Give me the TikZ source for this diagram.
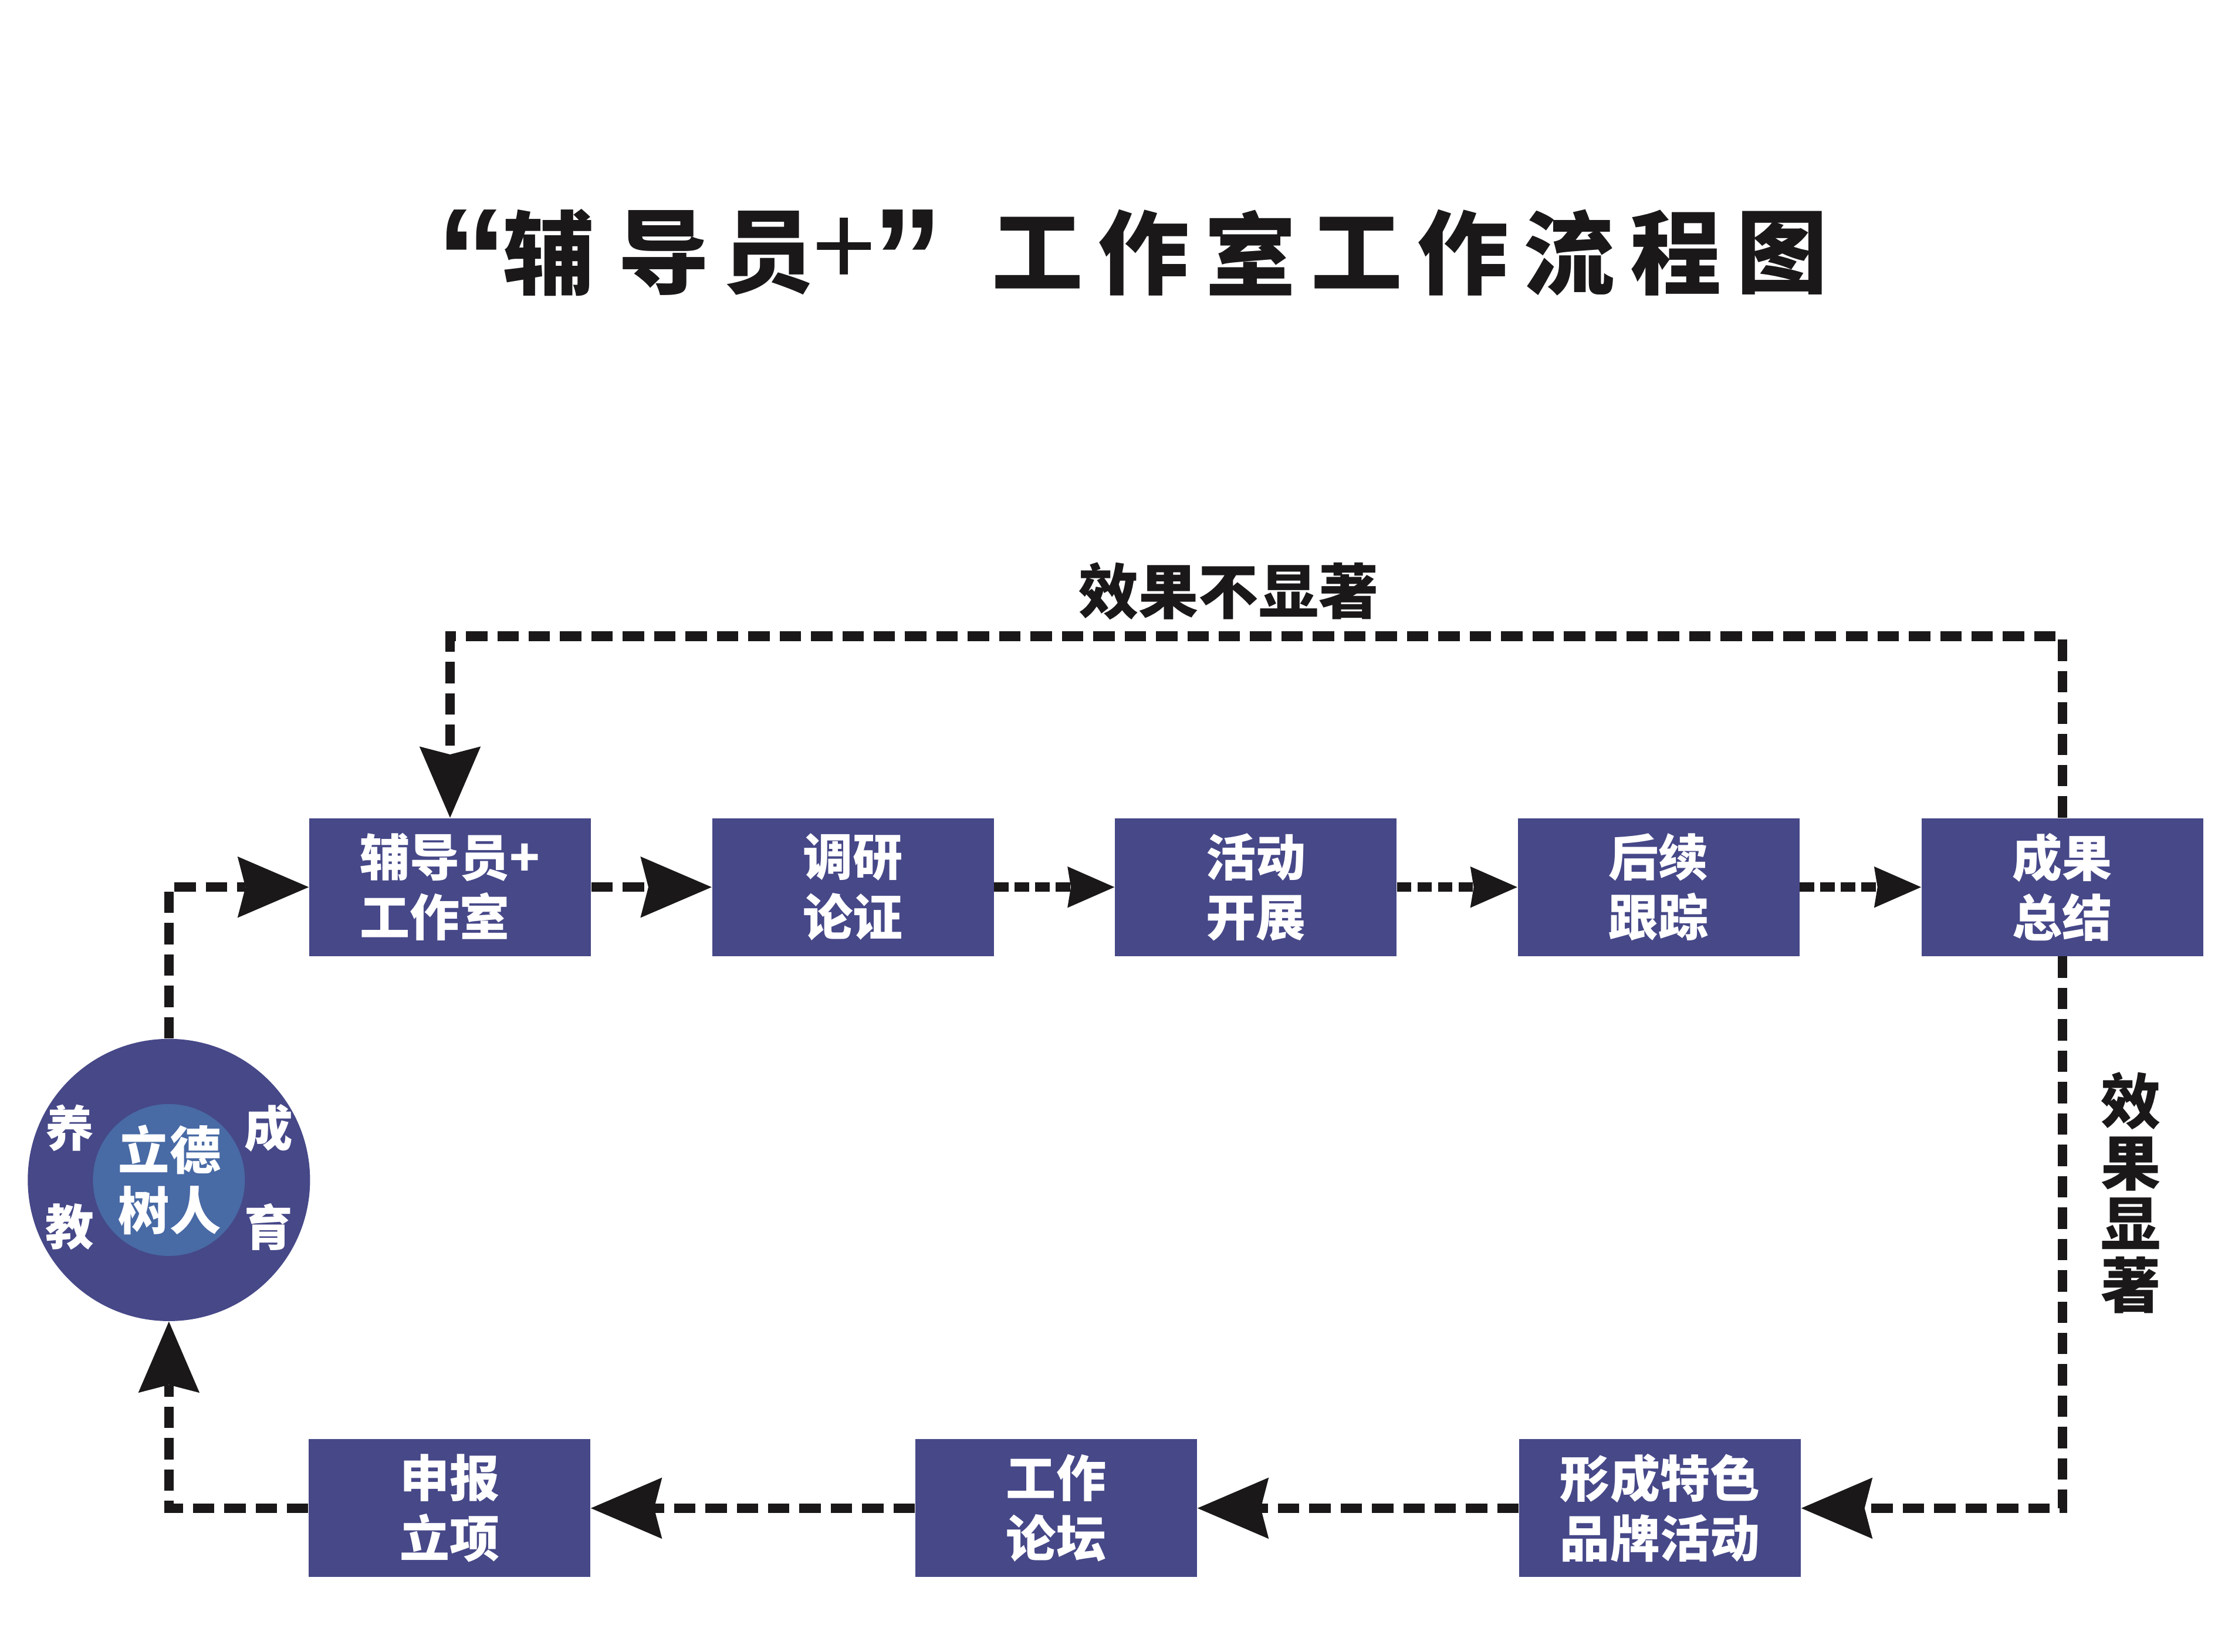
\documentclass[tikz,border=0pt]{standalone}
\usepackage{fontspec}
\newfontfamily\cjk{Noto Sans CJK SC}
\newfontfamily\cjkblack{Noto Sans CJK SC Black}
\newfontfamily\quotefont{Liberation Sans}
\usetikzlibrary{arrows.meta}
\definecolor{boxc}{RGB}{70,72,136}
\definecolor{innerc}{RGB}{72,106,165}
\definecolor{ink}{RGB}{26,24,25}
\begin{document}
\begin{tikzpicture}[x=0.025cm,y=-0.025cm,
  box/.style={rectangle, fill=boxc, minimum width=4.94cm, minimum height=2.42cm, inner sep=0pt, text=white, font=\cjk\bfseries\fontsize{24.9}{29.9}\selectfont, align=center},
  conn/.style={draw=ink, line width=0.17cm},
  longdash/.style={dash pattern=on 0.375cm off 0.175cm},
  finedash/.style={dash pattern=on 0.25cm off 0.11cm},
  bigtip/.style={-{Stealth[length=1.25cm,width=1.075cm,inset=0.14cm,line width=0pt]}},
  smalltip/.style={-{Stealth[length=0.825cm,width=0.725cm,inset=0.06cm,line width=0pt]}},
  titlech/.style={font=\cjkblack\fontsize{45.5}{50}\selectfont, text=ink, inner sep=0pt},
  titlequote/.style={font=\quotefont\bfseries\fontsize{71}{75}\selectfont, text=ink, inner sep=0pt, anchor=north},
  titleplus/.style={font=\cjk\fontsize{56}{60}\selectfont, text=ink, inner sep=0pt},
  lab/.style={font=\cjk\bfseries\fontsize{29.9}{30.6}\selectfont, text=ink, inner sep=0pt, align=center},
  ctext/.style={font=\cjk\bfseries\fontsize{24.2}{30.2}\selectfont, text=white, inner sep=0pt, align=center},
]
\useasboundingbox (0,0) rectangle (1568,1159);

% title
\node[titlequote] (q1) at (331,147) {“};
\node[titlech] (t1) at (385,177.4) {辅};
\node[titlech] (t2) at (465.6,177.4) {导};
\node[titlech] (t3) at (539,177.4) {员};
\node[titleplus] (t4) at (592,177.4) {+};
\node[titlequote] (q2) at (637,147) {”};
\foreach \ch [count=\i] in {工,作,室,工,作,流,程,图}
  \node[titlech] (w\i) at ({728+(\i-1)*74.6},177.4) {\ch};

% boxes
\node[box, align=left] (b1) at (315.75,622.5) {辅导员+\\工作室};
\node[box] (b2) at (598.4,622.5) {调研\\论证};
\node[box] (b3) at (881,622.5) {活动\\开展};
\node[box] (b4) at (1163.6,622.5) {后续\\跟踪};
\node[box] (b5) at (1446.9,622.5) {成果\\总结};
\node[box] (p1) at (1164.6,1058.3) {形成特色\\品牌活动};
\node[box] (p2) at (741,1058.3) {工作\\论坛};
\node[box] (p3) at (315.4,1058.3) {申报\\立项};

% circle
\node[circle, fill=boxc, minimum size=4.95cm, inner sep=0pt] (c) at (118.5,828) {};
\node[circle, fill=innerc, minimum size=2.665cm, inner sep=0pt] (ci) at (118.5,828) {};
\node[ctext, font=\cjk\bfseries\fontsize{25.6}{30.2}\selectfont] (ct) at (119,828) {立德\\树人};
\node[ctext] (y1) at (48.8,791.5) {养};
\node[ctext] (y2) at (48.8,861) {教};
\node[ctext] (y3) at (188.6,791.5) {成};
\node[ctext] (y4) at (188.6,861) {育};

% labels
\node[lab] (l1) at (862,415) {效果不显著};
\node[lab] (l2) at (1495,837) {效\\果\\显\\著};

% connectors
\coordinate (fbR) at (1446.9,446.5);
\draw[conn,longdash,bigtip] (b1) -- (b2);
\draw[conn,finedash,smalltip] (b2) -- (b3);
\draw[conn,finedash,smalltip] (b3) -- (b4);
\draw[conn,finedash,smalltip] (b4) -- (b5);
\draw[conn,longdash,bigtip] (b5.north) -- (fbR) -| (b1.north);
\draw[conn,longdash,bigtip] (b5.south) |- (p1.east);
\draw[conn,longdash,bigtip] (p1) -- (p2);
\draw[conn,longdash,bigtip] (p2) -- (p3);
\draw[conn,longdash,bigtip] (p3.west) -| (c.south);
\draw[conn,longdash,bigtip] (c.north) |- (b1.west);
\end{tikzpicture}
\end{document}
